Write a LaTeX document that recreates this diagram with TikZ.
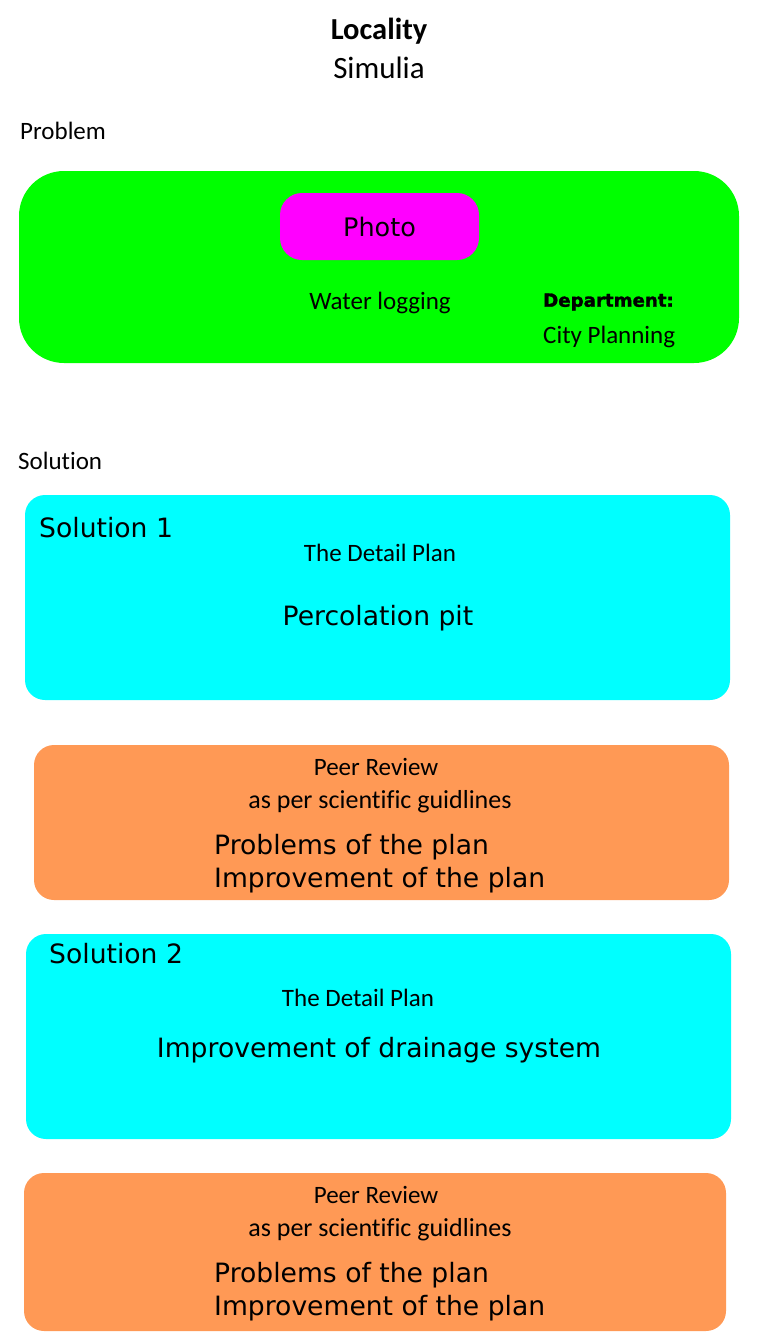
\documentclass[tikz,border=0pt]{standalone}
\usepackage{fontspec}
\usepackage{tikz}
\usepackage{xcolor}
\usetikzlibrary{positioning}
\setmainfont{Carlito}[Ligatures=NoCommon]
\newfontfamily\dejavu{DejaVu Sans}
\newfontfamily\heavyfont{DejaVu Sans}[BoldFeatures={FakeBold=1.6}]
\definecolor{problemGreen}{RGB}{0,255,0}
\definecolor{photoMagenta}{RGB}{255,0,255}
\definecolor{solutionCyan}{RGB}{0,255,255}
\definecolor{reviewOrange}{RGB}{255,153,85}
\newcommand{\fsz}[1]{\fontsize{#1}{#1}\selectfont}

\begin{document}
\begin{tikzpicture}[x=1pt,y=-1pt,
    panel/.style={rounded corners=20pt, inner sep=0pt, minimum width=#1},
    hum/.style={inner sep=0pt, font=\fsz{25}},
    sans/.style={inner sep=0pt, font=\dejavu\fsz{26.6}}]
                    \useasboundingbox (0,0) rectangle (759,1341);
                    % Header
                    \node[inner sep=0pt, font=\bfseries\fsz{30.5}] (locality) at (379,31) {Locality};
                    \node[inner sep=0pt, font=\fsz{31}] (simulia) at (379,68) {Simulia};
                    \node[hum, anchor=west] (problemlbl) at (20,131) {Problem};

                    % Problem box
                    \node[panel=720pt, minimum height=192pt, rounded corners=45pt, fill=problemGreen] (problem) at (379,267) {};
                    \node[panel=199pt, minimum height=67pt, rounded corners=22pt, fill=photoMagenta, font=\dejavu\fsz{25.5}] (photo) at (379.5,226.5) {Photo};
                    \node[hum] (issue) at (380,303) {Water logging};
                    \node[inner sep=0pt, anchor=west, font=\heavyfont\bfseries\fsz{18.2}] (dept) at (543,302) {Department:};
                    \node[hum, anchor=west] (deptname) at (543,337) {City Planning};

                    % Solutions
                    \node[hum, anchor=west] (solutionlbl) at (18,461) {Solution};

                    \node[panel=705pt, minimum height=205pt, fill=solutionCyan] (sol1) at (377.5,597.5) {};
                    \node[sans, anchor=west] at (39,528) {Solution 1};
                    \node[hum] at (380,553) {The Detail Plan};
                    \node[sans] at (378,618) {Percolation pit};

                    \node[panel=695pt, minimum height=155pt, fill=reviewOrange] (rev1) at (381.5,822.5) {};
                    \node[hum] at (376,767) {Peer Review};
                    \node[hum, font=\fsz{26}] at (380,802) {as per scientific guidlines};
                    \node[sans, anchor=west] at (214,847) {Problems of the plan};
                    \node[sans, anchor=west] at (214,880) {Improvement of the plan};

                    \node[panel=705pt, minimum height=205pt, fill=solutionCyan] (sol2) at (378.5,1036.5) {};
                    \node[sans, anchor=west] at (49,954) {Solution 2};
                    \node[hum] at (358,998) {The Detail Plan};
                    \node[sans] at (379,1050) {Improvement of drainage system};

                    \node[panel=702pt, minimum height=158pt, fill=reviewOrange] (rev2) at (375,1252) {};
                    \node[hum] at (376,1195) {Peer Review};
                    \node[hum, font=\fsz{26}] at (380,1230) {as per scientific guidlines};
                    \node[sans, anchor=west] at (214,1275) {Problems of the plan};
                    \node[sans, anchor=west] at (214,1308) {Improvement of the plan};
                \end{tikzpicture}
\end{document}
